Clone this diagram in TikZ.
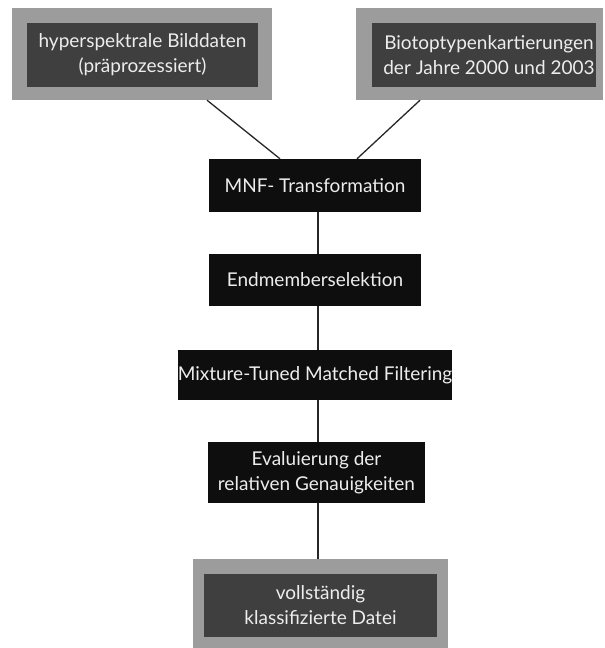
\documentclass[tikz,border=0pt]{standalone}
\usepackage{fontspec}
\setmainfont{Lato}
\definecolor{outergray}{HTML}{9C9C9C}
\definecolor{innergray}{HTML}{3F3F3F}
\definecolor{boxblack}{HTML}{0E0E0E}
\definecolor{txt}{HTML}{EDEDED}
\begin{document}
\begin{tikzpicture}[x=1pt,y=-1pt,
  outerbox/.style={rectangle, fill=outergray, draw=none, inner sep=0pt},
  innerbox/.style={rectangle, fill=innergray, draw=none, inner sep=0pt},
  blackbox/.style={rectangle, fill=boxblack, draw=none, inner sep=0pt, text=txt, align=center,
    font=\fontsize{19}{25}\selectfont},
  label/.style={text=txt, align=center, inner sep=0pt, font=\fontsize{19}{25}\selectfont},
  conn/.style={draw=black!85, line width=1.3pt}]
\useasboundingbox (0,0) rectangle (605,648);
% top left
\node[outerbox, minimum width=260pt, minimum height=92pt] (lo) at (142,54) {};
\node[innerbox, minimum width=231pt, minimum height=64pt] (li) at (142.5,55) {};
\node[label] (lt) at (li.center) {hyperspektrale Bilddaten\\(präprozessiert)};
% top right
\node[outerbox, minimum width=247pt, minimum height=92pt] (ro) at (479.5,54) {};
\node[innerbox, minimum width=224pt, minimum height=64pt] (ri) at (484,55) {};
\node[label] (rt) at (489,55) {Biotoptypenkartierungen\\der Jahre 2000 und 2003};
% chain
\node[blackbox, minimum width=212pt, minimum height=53pt] (mnf) at (315,185.5) {MNF- Transformation};
\node[blackbox, minimum width=212pt, minimum height=52pt] (end) at (315,280) {Endmemberselektion};
\node[blackbox, minimum width=268pt, minimum height=50pt] (mix) at (315,375) {Mixture-Tuned Matched Filtering};
\node[blackbox, minimum width=217pt, minimum height=61pt] (eva) at (316.5,472.5) {Evaluierung der\\relativen Genauigkeiten};
% bottom
\node[outerbox, minimum width=255pt, minimum height=89pt] (bo) at (320.5,603.5) {};
\node[innerbox, minimum width=233pt, minimum height=63pt] (bi) at (320.5,605.5) {};
\node[label] (bt) at (bi.center) {vollständig\\klassifizierte Datei};
% spine
\coordinate (sp) at (318,0);
\draw[conn] ([xshift=65pt]lo.south) -- ([xshift=-35pt]mnf.north);
\draw[conn] ([xshift=-59.5pt]ro.south) -- ([xshift=42pt]mnf.north);
\draw[conn] (mnf.south -| sp) -- (end.north -| sp);
\draw[conn] (end.south -| sp) -- (mix.north -| sp);
\draw[conn] (mix.south -| sp) -- (eva.north -| sp);
\draw[conn] (eva.south -| sp) -- (bo.north -| sp);
\end{tikzpicture}
\end{document}
